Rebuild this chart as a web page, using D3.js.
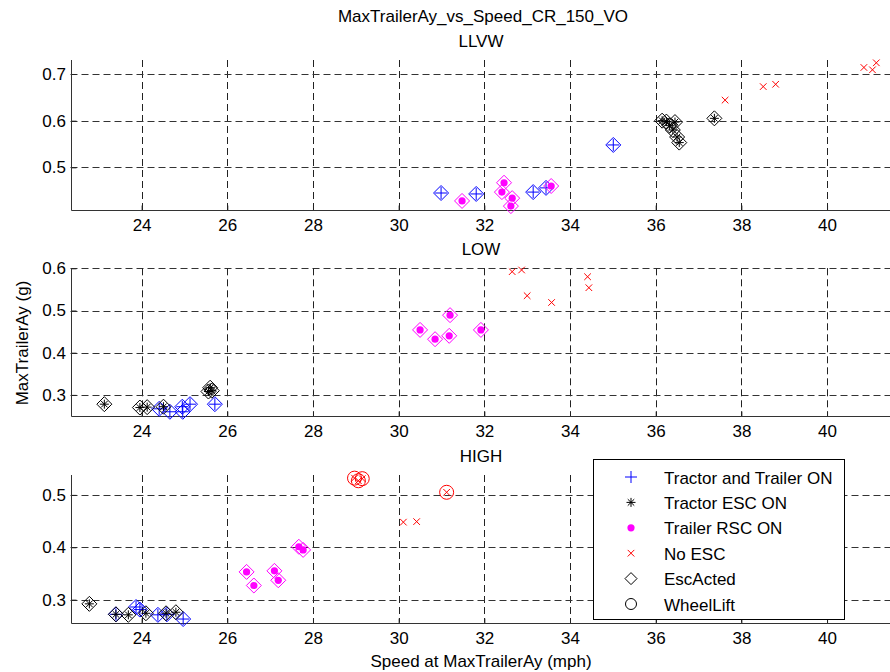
<!DOCTYPE html>
<html>
<head>
<meta charset="utf-8">
<script src="https://cdn.jsdelivr.net/npm/d3@7"></script>
<style>
  body { margin: 0; background: #fff; }
  svg { font-family: "Liberation Sans", Arial, sans-serif; }
</style>
</head>
<body>
<div id="chart"></div>
<script>
// data: [speed (mph), max trailer Ay (g)]
var llvwBoth = [[30.99, 0.445], [31.81, 0.443], [33.14, 0.447], [33.44, 0.456], [35.01, 0.548]];
var llvwTractor = [[36.15, 0.600], [36.25, 0.598], [36.32, 0.590], [36.40, 0.580], [36.45, 0.597], [36.50, 0.565], [36.55, 0.553], [37.37, 0.605]];
var llvwTrailer = [[31.48, 0.428], [32.41, 0.447], [32.46, 0.467], [32.62, 0.417], [32.65, 0.434], [33.56, 0.460]];
var llvwNoEsc = [[37.62, 0.644], [38.51, 0.673], [38.80, 0.678], [40.86, 0.714], [41.06, 0.709], [41.15, 0.724]];
var llvwLift = [];

var lowBoth = [[24.41, 0.267], [24.66, 0.260], [24.95, 0.272], [24.96, 0.260], [25.13, 0.278], [25.71, 0.278]];
var lowTractor = [[23.13, 0.278], [23.96, 0.270], [24.13, 0.271], [24.51, 0.272], [25.56, 0.308], [25.60, 0.317], [25.64, 0.310]];
var lowTrailer = [[30.50, 0.454], [30.85, 0.432], [31.18, 0.440], [31.20, 0.489], [31.92, 0.454]];
var lowNoEsc = [[32.65, 0.592], [32.87, 0.596], [33.00, 0.535], [33.57, 0.519], [34.41, 0.580], [34.44, 0.554]];
var lowLift = [];

var highBoth = [[23.40, 0.272], [23.87, 0.286], [23.96, 0.281], [24.38, 0.271], [24.59, 0.272], [24.97, 0.263]];
var highTractor = [[22.78, 0.292], [23.40, 0.272], [23.69, 0.271], [24.10, 0.274], [24.57, 0.274], [24.80, 0.276]];
var highTrailer = [[26.45, 0.353], [26.62, 0.327], [27.10, 0.355], [27.19, 0.337], [27.67, 0.401], [27.77, 0.395]];
var highNoEsc = [[28.97, 0.532], [29.06, 0.527], [29.15, 0.531], [30.11, 0.448], [30.42, 0.449], [31.12, 0.505]];
var highLift = [[28.97, 0.532], [29.06, 0.527], [29.15, 0.531], [31.12, 0.505]];

var xTicks = [24, 26, 28, 30, 32, 34, 36, 38, 40];
var legendNames = ["Tractor and Trailer ON", "Tractor ESC ON", "Trailer RSC ON", "No ESC", "EscActed", "WheelLift"];

var svgWidth = 890;
var svgHeight = 672;
var fontSize = 17;

var svg = d3.select("#chart")
    .append("svg")
    .attr("width", svgWidth)
    .attr("height", svgHeight);

var xScale = d3.scaleLinear()
    .domain([22.34, 41.5])
    .range([70.5, 70.5 + 19.16 * 42.84]);

var panels = [
    {name: "LLVW", top: 60, bottom: 210, ylim: [0.4086, 0.73], yTicks: [0.5, 0.6, 0.7],
     both: llvwBoth, tractor: llvwTractor, trailer: llvwTrailer, noesc: llvwNoEsc, lift: llvwLift},
    {name: "LOW", top: 268.3, bottom: 416, ylim: [0.25, 0.6], yTicks: [0.3, 0.4, 0.5, 0.6],
     both: lowBoth, tractor: lowTractor, trailer: lowTrailer, noesc: lowNoEsc, lift: lowLift},
    {name: "HIGH", top: 475, bottom: 622.7, ylim: [0.256, 0.538], yTicks: [0.3, 0.4, 0.5],
     both: highBoth, tractor: highTractor, trailer: highTrailer, noesc: highNoEsc, lift: highLift}
];

// marker shapes
function plusPath(s) { return `M${-s},0H${s}M0,${-s}V${s}`; }
function xPath(s) { return `M${-s},${-s}L${s},${s}M${-s},${s}L${s},${-s}`; }
function starPath(s) { var d = s * 0.72; return plusPath(s) + xPath(d); }
function diamondPath(s) { return `M0,${-s}L${s},0L0,${s}L${-s},0Z`; }

var left = xScale.range()[0];
var right = svgWidth;

panels.forEach(function(p) {
    var yScale = d3.scaleLinear().domain(p.ylim).range([p.bottom, p.top]);
    var g = svg.append("g");

    // grid
    g.selectAll(".vgrid").data(xTicks).enter().append("line")
        .attr("x1", d => Math.round(xScale(d)) + 0.5)
        .attr("x2", d => Math.round(xScale(d)) + 0.5)
        .attr("y1", p.top).attr("y2", p.bottom)
        .attr("stroke", "#222").attr("stroke-dasharray", "7,4");
    g.selectAll(".hgrid").data(p.yTicks).enter().append("line")
        .attr("x1", left).attr("x2", right)
        .attr("y1", d => Math.round(yScale(d)) + 0.5)
        .attr("y2", d => Math.round(yScale(d)) + 0.5)
        .attr("stroke", "#333").attr("stroke-dasharray", "7,4");

    // axes
    var bottomAxis = d3.axisBottom(xScale).tickValues(xTicks).tickSize(-5).tickPadding(8).tickFormat(d3.format("d"));
    var leftAxis = d3.axisLeft(yScale).tickValues(p.yTicks).tickSize(-5).tickPadding(5.5).tickFormat(d3.format(".1f"));
    var xa = g.append("g").attr("transform", `translate(0,${Math.round(p.bottom) + 0.5})`).call(bottomAxis);
    var ya = g.append("g").attr("transform", `translate(${Math.round(left) + 0.5},0)`).call(leftAxis);
    [xa, ya].forEach(function(a) {
        a.select(".domain").remove();
        a.selectAll("text").attr("font-size", fontSize).attr("fill", "#000").attr("font-family", "Liberation Sans, Arial, sans-serif");
        a.selectAll("line").attr("stroke", "#222");
    });
    // top ticks
    g.selectAll(".ttick").data(xTicks).enter().append("line")
        .attr("x1", d => Math.round(xScale(d)) + 0.5)
        .attr("x2", d => Math.round(xScale(d)) + 0.5)
        .attr("y1", p.top).attr("y2", p.top + 4)
        .attr("stroke", "#222");
    g.append("line")
        .attr("x1", Math.round(left) + 0.5).attr("x2", right)
        .attr("y1", Math.round(p.bottom) + 0.5).attr("y2", Math.round(p.bottom) + 0.5)
        .attr("stroke", "#333");
    g.append("line")
        .attr("x1", Math.round(left) + 0.5).attr("x2", Math.round(left) + 0.5)
        .attr("y1", p.top).attr("y2", Math.round(p.bottom) + 0.5)
        .attr("stroke", "#333");

    // panel title
    g.append("text")
        .attr("x", 481).attr("y", p.top - 13)
        .attr("text-anchor", "middle").attr("font-size", fontSize)
        .text(p.name);

    function place(d) { return `translate(${xScale(d[0])},${yScale(d[1])})`; }

    // series
    g.selectAll(".both").data(p.both).enter().append("path")
        .attr("transform", place).attr("d", plusPath(6))
        .attr("fill", "none").attr("stroke", "#0000ff");
    g.selectAll(".bothd").data(p.both).enter().append("path")
        .attr("transform", place).attr("d", diamondPath(7.5))
        .attr("fill", "none").attr("stroke", "#0000ff");

    g.selectAll(".tr").data(p.tractor).enter().append("path")
        .attr("transform", place).attr("d", starPath(4.5))
        .attr("fill", "none").attr("stroke", "#000");
    g.selectAll(".trd").data(p.tractor).enter().append("path")
        .attr("transform", place).attr("d", diamondPath(7.5))
        .attr("fill", "none").attr("stroke", "#000");

    g.selectAll(".tl").data(p.trailer).enter().append("circle")
        .attr("transform", place).attr("r", 3.6)
        .attr("fill", "#ff00ff");
    g.selectAll(".tld").data(p.trailer).enter().append("path")
        .attr("transform", place).attr("d", diamondPath(7.5))
        .attr("fill", "none").attr("stroke", "#ff00ff");

    g.selectAll(".ne").data(p.noesc).enter().append("path")
        .attr("transform", place).attr("d", xPath(3.3))
        .attr("fill", "none").attr("stroke", "#ff0000");

    g.selectAll(".wl").data(p.lift).enter().append("circle")
        .attr("transform", place).attr("r", 7)
        .attr("fill", "none").attr("stroke", "#ff0000");
});

// main title and axis labels
svg.append("text").attr("x", 483).attr("y", 22).attr("text-anchor", "middle")
    .attr("font-size", fontSize).text("MaxTrailerAy_vs_Speed_CR_150_VO");
svg.append("text").attr("x", 481).attr("y", 667).attr("text-anchor", "middle")
    .attr("font-size", fontSize).text("Speed at MaxTrailerAy (mph)");
svg.append("text").attr("transform", "translate(28,343) rotate(-90)").attr("text-anchor", "middle")
    .attr("font-size", fontSize).text("MaxTrailerAy (g)");

// legend
var legend = svg.append("g");
legend.append("rect").attr("x", 593.5).attr("y", 459.5).attr("width", 251).attr("height", 160)
    .attr("fill", "#fff").attr("stroke", "#000");
var legendMarks = [
    {d: plusPath(6), stroke: "#0000ff"},
    {d: starPath(4.5), stroke: "#000"},
    {dot: true},
    {d: xPath(3.3), stroke: "#ff0000"},
    {d: diamondPath(6), stroke: "#000"},
    {circle: true}
];
var rowY = d3.scaleLinear().domain([0, 5]).range([477, 604]);
legendNames.forEach(function(name, i) {
    var y = rowY(i);
    var m = legendMarks[i];
    if (m.dot) {
        legend.append("circle").attr("cx", 631).attr("cy", y).attr("r", 3.6).attr("fill", "#ff00ff");
    } else if (m.circle) {
        legend.append("circle").attr("cx", 631).attr("cy", y).attr("r", 5.5).attr("fill", "none").attr("stroke", "#000");
    } else {
        legend.append("path").attr("transform", `translate(631,${y})`).attr("d", m.d)
            .attr("fill", "none").attr("stroke", m.stroke);
    }
    legend.append("text").attr("x", 664).attr("y", y + 6.5).attr("font-size", fontSize).text(name);
});
</script>
</body>
</html>
